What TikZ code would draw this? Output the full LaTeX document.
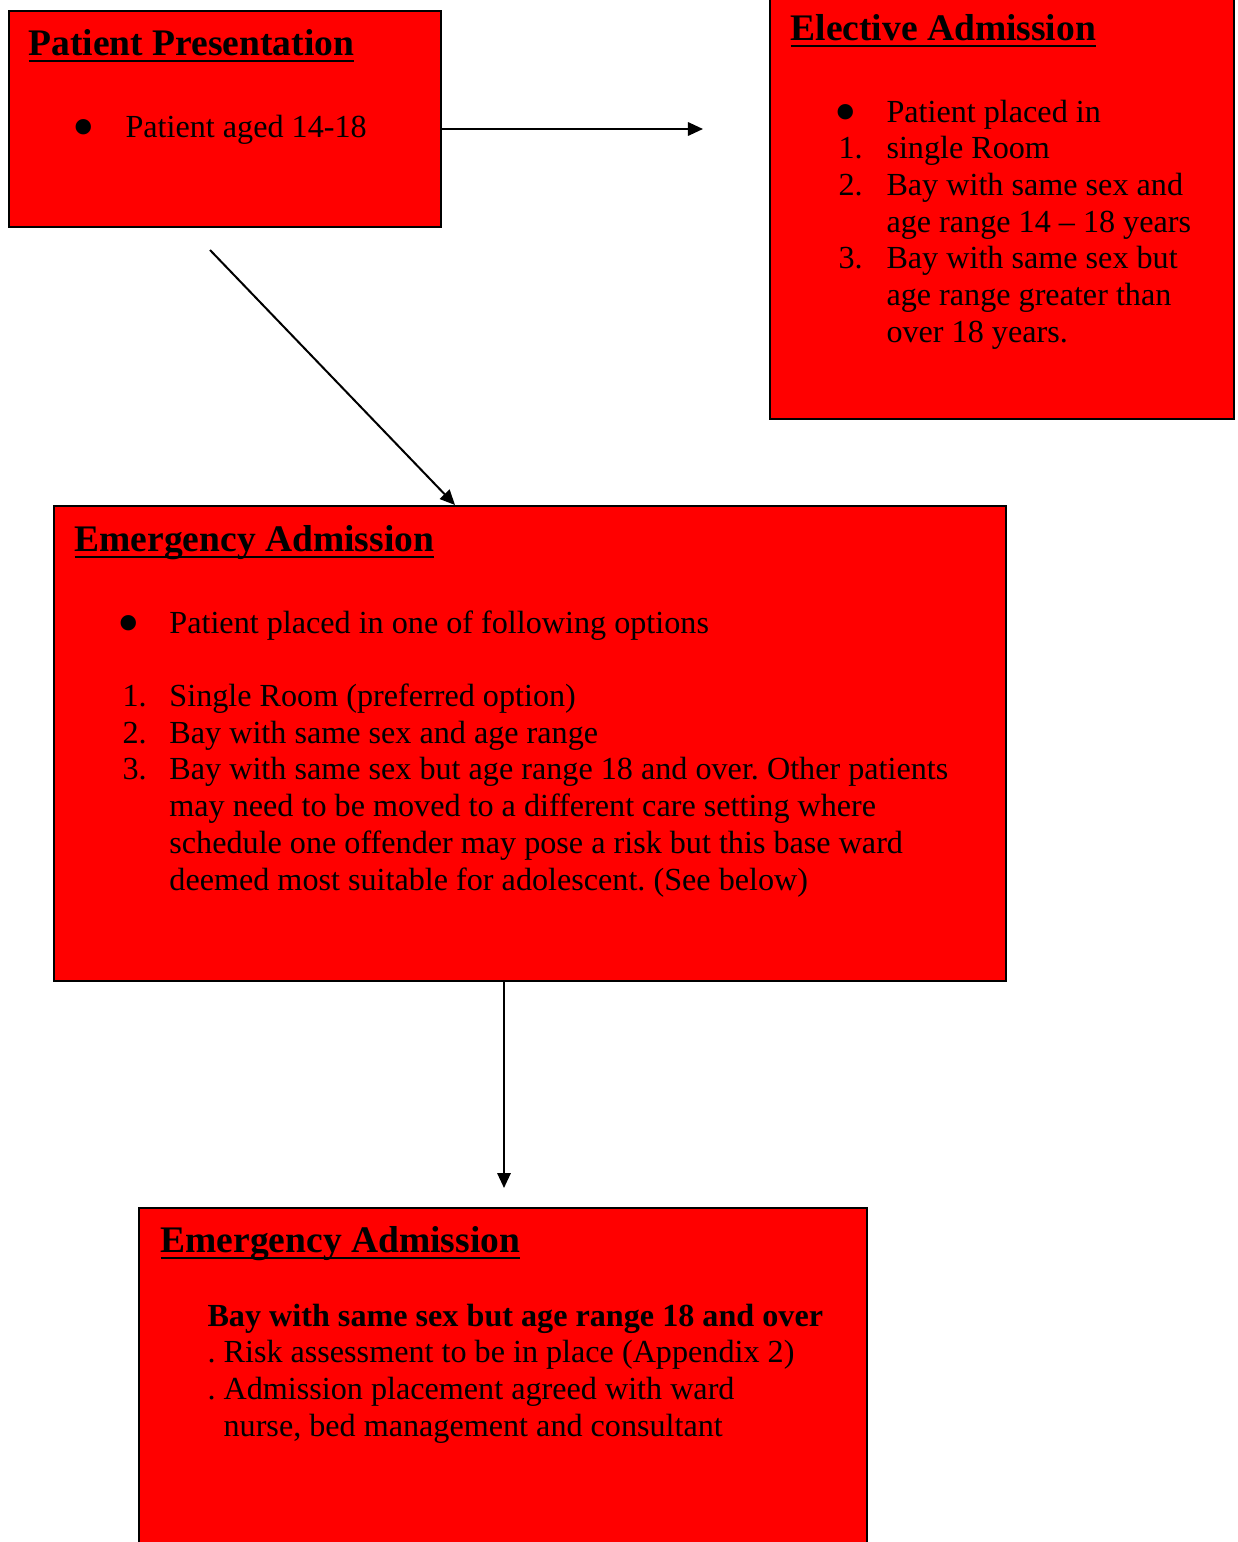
\documentclass[tikz,border=0pt]{standalone}
\usepackage{fontspec}
\setmainfont{Liberation Serif}
\usetikzlibrary{arrows.meta, positioning}

\newcommand\ttlline[1]{\setbox0\hbox{#1}\rlap{\rule[-2.6pt]{\wd0}{0.9pt}}\box0}
\newcommand\bul[1]{\hspace*{#1}\makebox[0pt]{\smash{\raisebox{-4.3pt}{\fontsize{24}{24}\selectfont\textbullet}}}}

\begin{document}
\frenchspacing
\begin{tikzpicture}[x=0.3731pt, y=-0.3731pt,
		box/.style = {draw, line width=0.75pt, fill=red, rectangle, inner sep=0pt, anchor=north west},
		ttl/.style = {anchor=base west, inner sep=0pt, font=\fontsize{14}{16}\selectfont\bfseries},
		txt/.style = {anchor=base west, inner sep=0pt, font=\fontsize{12}{13.7}\selectfont},
		arr/.style = {-{Triangle[length=5.6pt, width=5pt]}, line width=0.75pt}]
			\useasboundingbox (0,0) rectangle (1238,1542);
			
			\node [box, minimum width=161.2pt, minimum height=80.6pt] (pp) at (8,10) {};
			\node [box, minimum width=173.1pt, minimum height=159.7pt] (el) at (769,-10) {};
			\node [box, minimum width=355.2pt, minimum height=177.2pt] (ea) at (53,505) {};
			\node [box, minimum width=271.6pt, minimum height=131.7pt] (bay) at (138,1207) {};
			
			\node [ttl] (ppT) at (28,55) {\ttlline{Patient Presentation}};
			\node [txt] (ppL) at (80,137) {\begin{tabular}[t]{@{}p{16.8pt}@{}l@{}}
				\bul{1.1pt} & Patient aged 14-18
			\end{tabular}};
			
			\node [ttl] (elT) at (790,40) {\ttlline{Elective Admission}};
			\node [txt] (elL) at (838,122) {\begin{tabular}[t]{@{}p{17.9pt}@{}l@{}}
				\bul{2.6pt} & Patient placed in\\
				1. & single Room\\
				2. & Bay with same sex and\\
				   & age range 14 -- 18 years\\
				3. & Bay with same sex but\\
				   & age range greater than\\
				   & over 18 years.
			\end{tabular}};
			
			\node [ttl] (eaT) at (74,551) {\ttlline{Emergency Admission}};
			\node [txt] (eaL) at (122,633) {\begin{tabular}[t]{@{}p{17.5pt}@{}l@{}}
				\bul{2.2pt} & Patient placed in one of following options\\
				   & \\
				1. & Single Room (preferred option)\\
				2. & Bay with same sex and age range\\
				3. & Bay with same sex but age range 18 and over. Other patients\\
				   & may need to be moved to a different care setting where\\
				   & schedule one offender may pose a risk but this base ward\\
				   & deemed most suitable for adolescent. (See below)
			\end{tabular}};
			
			\node [ttl] (bayT) at (160,1252) {\ttlline{Emergency Admission}};
			\node [txt] (bayL) at (207,1326) {\begin{tabular}[t]{@{}l@{}}
				\textbf{Bay with same sex but age range 18 and over}\\
				. Risk assessment to be in place (Appendix 2)\\
				. Admission placement agreed with ward\\
				\hphantom{. }nurse, bed management and consultant
			\end{tabular}};
			
			% connectors
			\coordinate (elIn) at (703,129);
			\coordinate (diagS) at (210,250);
			\coordinate (eaIn) at (455,505);
			\coordinate (bayIn) at (504,1188);
			\draw [arr] (elIn -| pp.east) -- (elIn);
			\draw [arr] (diagS) -- (eaIn);
			\draw [arr] (bayIn |- ea.south) -- (bayIn);
\end{tikzpicture}
\end{document}
